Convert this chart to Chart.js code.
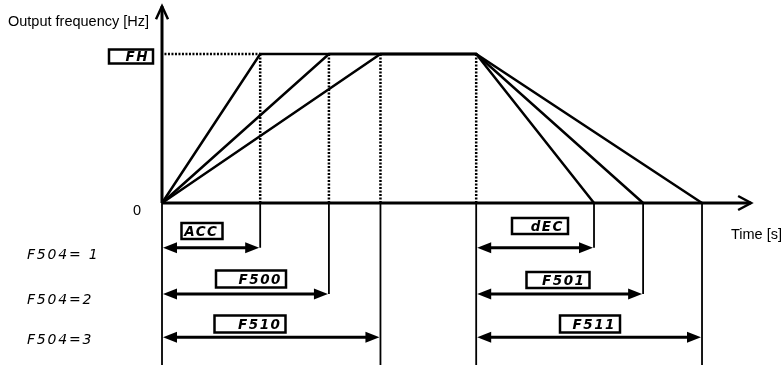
<!DOCTYPE html>
<html>
<head>
<meta charset="utf-8">
<script src="https://cdn.jsdelivr.net/npm/chart.js@4/dist/chart.umd.min.js"></script>
<style>
  html, body { margin: 0; padding: 0; background: #fff; }
  #wrap { width: 784px; height: 365px; position: relative; }
</style>
</head>
<body>
<div id="wrap"><canvas id="chart"></canvas></div>
<script>
// values (time in s, frequency relative to FH)
const accTimes = [2.0, 3.4, 4.45];
const decStart = 6.4;
const decTimes = [8.8, 9.8, 11.0];
const fhLevel = 1;
const rowLevels = [-0.3, -0.61, -0.9];
const rowLabels = ['F504= 1', 'F504=2', 'F504=3'];
const accNames = ['ACC', 'F500', 'F510'];
const decNames = ['dEC', 'F501', 'F511'];
const axisTitles = ['Output frequency [Hz]', 'Time [s]'];

const bottom = -1.1;
const lineSets = [];
const solid = (data, w) => ({ data, showLine: true, borderColor: '#000', borderWidth: w, pointRadius: 0, fill: false, tension: 0 });
const dotted = (data) => ({ ...solid(data, 2.5), borderDash: [2, 1.5] });

// axes
lineSets.push(solid([{ x: 0, y: 0 }, { x: 0, y: 1.32 }], 3));
lineSets.push(solid([{ x: 0, y: 0 }, { x: 12.0, y: 0 }], 3));

// frequency profiles
accTimes.forEach((t, i) => {
  lineSets.push(solid([{ x: 0, y: 0 }, { x: t, y: fhLevel }, { x: decStart, y: fhLevel }, { x: decTimes[i], y: 0 }], 2.5));
});

// dotted guides
lineSets.push(dotted([{ x: 0.05, y: fhLevel }, { x: accTimes[0], y: fhLevel }]));
accTimes.forEach(t => lineSets.push(dotted([{ x: t, y: fhLevel }, { x: t, y: 0 }])));
lineSets.push(dotted([{ x: decStart, y: fhLevel }, { x: decStart, y: 0 }]));

// thin drop lines below the axis
lineSets.push(solid([{ x: 0, y: 0 }, { x: 0, y: bottom }], 1.8));
lineSets.push(solid([{ x: decStart, y: 0 }, { x: decStart, y: bottom }], 1.8));
accTimes.forEach((t, i) => {
  const end = i === 2 ? bottom : rowLevels[i];
  lineSets.push(solid([{ x: t, y: 0 }, { x: t, y: end }], 1.8));
});
decTimes.forEach((t, i) => {
  const end = i === 2 ? bottom : rowLevels[i];
  lineSets.push(solid([{ x: t, y: 0 }, { x: t, y: end }], 1.8));
});

// time arrows
const arrows = [];
rowLevels.forEach((lv, i) => {
  arrows.push([0, accTimes[i], lv]);
  arrows.push([decStart, decTimes[i], lv]);
});
arrows.forEach(a => lineSets.push(solid([{ x: a[0] + 0.2, y: a[2] }, { x: a[1] - 0.2, y: a[2] }], 3)));

const decor = {
  id: 'decor',
  afterDatasetsDraw(chart) {
    const ctx = chart.ctx;
    const xs = chart.scales.x, ys = chart.scales.y;
    const px = v => xs.getPixelForValue(v), py = v => ys.getPixelForValue(v);
    ctx.save();
    ctx.strokeStyle = '#000';
    ctx.fillStyle = '#000';

    // axis chevrons
    ctx.lineWidth = 2.5;
    const ox = px(0), ty = py(1.32);
    ctx.beginPath();
    ctx.moveTo(ox - 6, ty + 13); ctx.lineTo(ox, ty); ctx.lineTo(ox + 6, ty + 13);
    ctx.stroke();
    const ex = px(12.0), oy = py(0);
    ctx.beginPath();
    ctx.moveTo(ex - 13, oy - 7); ctx.lineTo(ex, oy); ctx.lineTo(ex - 13, oy + 7);
    ctx.stroke();

    // arrowheads
    const head = (x, y, dir) => {
      ctx.beginPath();
      ctx.moveTo(x, y);
      ctx.lineTo(x - dir * 14, y - 5.5);
      ctx.lineTo(x - dir * 14, y + 5.5);
      ctx.closePath();
      ctx.fill();
    };
    arrows.forEach(a => {
      head(px(a[0]) + 1, py(a[2]), -1);
      head(px(a[1]) - 1, py(a[2]), 1);
    });

    // plain titles
    ctx.font = '14.5px "Liberation Sans", Arial, sans-serif';
    ctx.textBaseline = 'alphabetic';
    ctx.textAlign = 'left';
    ctx.fillText(axisTitles[0], 8, 26);
    ctx.fillText(axisTitles[1], 731, 239);
    ctx.fillText('0', ox - 29, oy + 12);

    // left row labels
    ctx.font = 'italic 14px "DejaVu Sans", sans-serif';
    ctx.letterSpacing = '1.8px';
    ctx.textBaseline = 'middle';
    const rowOffsets = [8, 6, 3];
    rowLabels.forEach((s, i) => ctx.fillText(s, 27, py(rowLevels[i]) + rowOffsets[i]));

    // boxed parameter names
    const box = (txt, cx, cy, w, h) => {
      ctx.lineWidth = 2.5;
      ctx.strokeRect(cx - w / 2, cy - h / 2, w, h);
      ctx.font = 'italic bold 13.5px "DejaVu Sans", sans-serif';
      ctx.letterSpacing = '1.5px';
      ctx.textAlign = 'right';
      ctx.fillText(txt, cx + w / 2 - 4, cy + 1);
      ctx.textAlign = 'left';
    };
    box('FH', 131, 56.5, 44, 14);
    const accBoxes = [[202, 231, 41, 16], [251, 279, 70, 17], [250, 324, 71, 17]];
    const decBoxes = [[540, 226, 56, 16], [558, 280, 63, 16], [590, 324, 60, 17]];
    accNames.forEach((s, i) => box(s, ...accBoxes[i]));
    decNames.forEach((s, i) => box(s, ...decBoxes[i]));
    ctx.restore();
  }
};

new Chart(document.getElementById('chart'), {
  type: 'scatter',
  data: { datasets: lineSets },
  options: {
    responsive: true,
    maintainAspectRatio: false,
    animation: false,
    layout: { padding: 0 },
    plugins: { legend: { display: false }, tooltip: { enabled: false } },
    scales: {
      x: { type: 'linear', min: -3.3, max: 12.67, display: false },
      y: { type: 'linear', min: -1.087, max: 1.362, display: false }
    }
  },
  plugins: [decor]
});
</script>
</body>
</html>
